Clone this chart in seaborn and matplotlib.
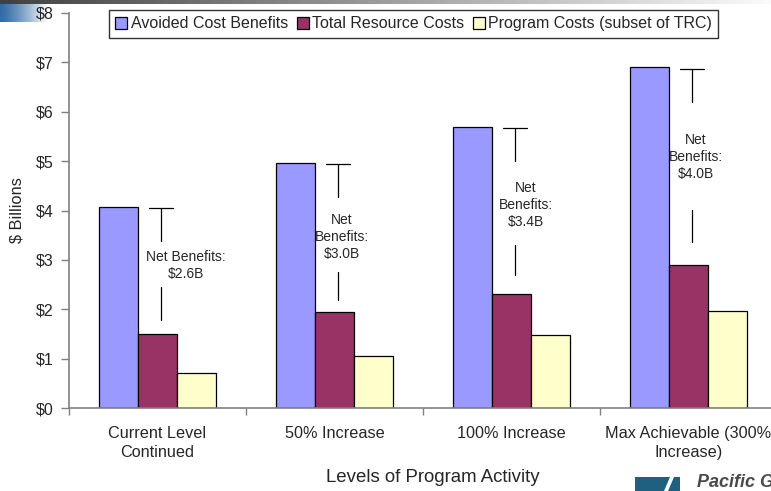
import numpy as np
import pandas as pd
import matplotlib
matplotlib.use("Agg")
import matplotlib.pyplot as plt
from matplotlib.patches import Rectangle, Polygon
from matplotlib.lines import Line2D
import seaborn as sns

# ---- data ($ billions) ----
levels = ["Current Level\nContinued", "50% Increase", "100% Increase",
          "Max Achievable (300%\nIncrease)"]
series = ["Avoided Cost Benefits", "Total Resource Costs",
          "Program Costs (subset of TRC)"]
avoided_cost = [4.08, 4.97, 5.70, 6.90]
total_resource = [1.50, 1.95, 2.30, 2.90]
program_costs = [0.70, 1.06, 1.47, 1.96]
net_labels = ["Net Benefits:\n$2.6B", "Net\nBenefits:\n$3.0B",
              "Net\nBenefits:\n$3.4B", "Net\nBenefits:\n$4.0B"]
y_ticks = [0, 1, 2, 3, 4, 5, 6, 7, 8]

colors = ["#9999FF", "#993366", "#FFFFCC"]

df = pd.DataFrame({
    "level": levels * 3,
    "series": [s for s in series for _ in levels],
    "value": avoided_cost + total_resource + program_costs,
})

sns.set_style("ticks")
plt.rcParams["font.family"] = ["Liberation Sans", "DejaVu Sans"]

fig = plt.figure(figsize=(7.71, 4.91), dpi=100)
W, H = 771, 491
# axes extends a little past the right edge of the figure
ax = fig.add_axes([69 / W, 1 - 408 / H, 708 / W, 395 / H])

sns.barplot(data=df, x="level", y="value", hue="series", order=levels,
            hue_order=series, palette=colors, width=0.661, gap=0,
            edgecolor="black", linewidth=0.9, saturation=1, ax=ax,
            legend=False)

ax.set_xlim(-0.5, 3.5)
ax.set_ylim(0, 8)
ax.set_yticks(y_ticks)
ax.set_yticklabels([f"${t}" for t in y_ticks], fontsize=11.5)
ax.tick_params(axis="y", length=6, width=1, color="#808080", pad=5)

# boundary ticks between groups, labels at group centres
ax.set_xticks([-0.5, 0.5, 1.5, 2.5, 3.5])
ax.set_xticklabels([])
ax.set_xticks(range(len(levels)), minor=True)
ax.set_xticklabels(levels, minor=True, fontsize=11.7)
for lbl in ax.get_xticklabels(minor=True):
    lbl.set_linespacing(1.35)
ax.tick_params(axis="x", which="major", length=5, width=1, color="#808080")
ax.tick_params(axis="x", which="minor", length=0, pad=13)

for s in ("top", "right"):
    ax.spines[s].set_visible(False)
for s in ("left", "bottom"):
    ax.spines[s].set_color("#808080")
    ax.spines[s].set_linewidth(1.2)

ax.set_ylabel("$ Billions", fontsize=11.8, labelpad=8)
ax.set_xlabel("")
fig.text(433 / W, 1 - 478 / H, "Levels of Program Activity", fontsize=13.4,
         ha="center", va="center")

# net-benefit dimension markers and labels
text_dx = [0.16, 0.04, 0.08, 0.04]
text_y = [2.89, 3.46, 4.11, 5.08]
lower_seg = [(1.78, 2.45), (2.19, 2.75), (2.69, 3.30), (3.36, 4.01)]
for i, top in enumerate(avoided_cost):
    xc = i + 0.02
    ax.plot([xc - 0.068, xc + 0.068], [top - 0.03, top - 0.03],
            color="black", lw=0.9)
    ax.plot([xc, xc], [top - 0.03, top - 0.70], color="black", lw=0.9)
    lo, hi = lower_seg[i]
    ax.plot([xc, xc], [lo, hi], color="black", lw=0.9)
    ax.text(i + text_dx[i], text_y[i], net_labels[i], ha="center",
            va="center", fontsize=10, linespacing=1.28)

# legend across the top
handles = [Line2D([], [], marker="s", linestyle="none", markersize=8.5,
                  markerfacecolor=c, markeredgecolor="black",
                  markeredgewidth=0.9) for c in colors]
leg = fig.legend(handles, series, loc="upper center",
                 bbox_to_anchor=(413.5 / W, 1 - 10 / H), ncol=3,
                 fontsize=11.5, frameon=True, fancybox=False,
                 handlelength=0.8, handletextpad=0.2, columnspacing=0.5,
                 borderpad=0.4, borderaxespad=0)
leg.get_frame().set_edgecolor("black")
leg.get_frame().set_linewidth(1.0)

# slide header strip and corner accent
hdr = fig.add_axes([0, 1 - 4 / H, 1, 4 / H])
grad = np.linspace(0.25, 0.98, 256)[None, :]
hdr.imshow(grad, aspect="auto", cmap="gray", vmin=0, vmax=1,
           extent=[0, 1, 0, 1])
hdr.set_axis_off()
corner = fig.add_axes([0, 1 - 22 / H, 48 / W, 18 / H])
blue_grad = np.zeros((1, 128, 3))
t = np.linspace(0, 1, 128)
base = np.array([0.20, 0.42, 0.65])
blue_grad[0] = base[None, :] * (1 - t[:, None] ** 1.3) + t[:, None] ** 1.3
corner.imshow(blue_grad, aspect="auto", extent=[0, 1, 0, 1])
corner.set_axis_off()
ax.set_zorder(2)

# company mark, bottom right
fig.patches.append(Rectangle((635 / W, 0), 45 / W, 14 / H,
                             transform=fig.transFigure,
                             facecolor="#1f5f7f", edgecolor="none"))
fig.patches.append(Polygon([(664 / W, 0), (668 / W, 0), (674 / W, 14 / H),
                            (670 / W, 14 / H)], closed=True,
                           transform=fig.transFigure, facecolor="white",
                           edgecolor="none"))
fig.text(697 / W, 0, "Pacific Gas and Electric Company", fontsize=13,
         fontweight="bold", fontstyle="italic", color="#4a4a4a",
         ha="left", va="bottom")

fig.savefig("out.png", dpi=100)
